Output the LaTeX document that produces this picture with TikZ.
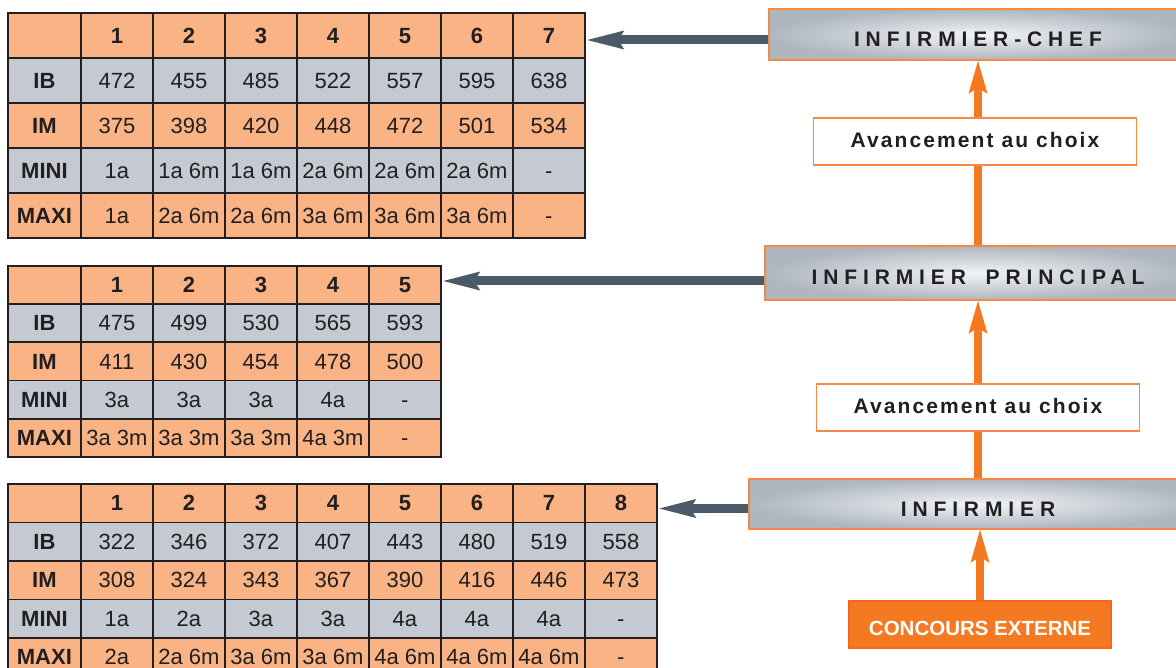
\documentclass[tikz,border=0pt]{standalone}
\usepackage{fontspec}
\setmainfont{Liberation Sans}
\newfontfamily\rankfont[LetterSpace=28]{Liberation Sans}
\newfontfamily\choixfont[LetterSpace=10]{Liberation Sans}
\usetikzlibrary{matrix,arrows.meta,positioning}

\definecolor{ink}{HTML}{231F20}
\definecolor{peach}{HTML}{F9B384}
\definecolor{steel}{HTML}{C5CAD2}
\definecolor{slate}{HTML}{4B5A68}
\definecolor{tangerine}{HTML}{F47920}
\definecolor{boxline}{HTML}{F58A45}
\definecolor{chromeout}{HTML}{AEB6BF}
\definecolor{chromein}{HTML}{F2F4F6}

\newcommand\gridfont{\fontsize{22}{24}\selectfont}

\tikzset{
  grille/.style={matrix of nodes, nodes in empty cells, anchor=north west,
    inner sep=0pt, outer sep=0pt, row sep=-1.8pt, column sep=-1.8pt,
    nodes={draw=ink, line width=1.8pt, minimum width=72pt, inner sep=0pt,
      text height=15.5pt, text depth=0pt, font=\gridfont, text=ink},
    column 1/.style={nodes={minimum width=73pt, font=\gridfont\bfseries}},
    row 1/.style={nodes={fill=peach, font=\gridfont\bfseries}},
    row 2/.style={nodes={fill=steel}},
    row 3/.style={nodes={fill=peach}},
    row 4/.style={nodes={fill=steel}},
    row 5/.style={nodes={fill=peach}}},
  grade/.style={draw=boxline, line width=1.5pt, shading=radial,
    inner color=chromein, outer color=chromeout, text=ink,
    text height=24pt, text depth=0pt,
    font=\rankfont\fontsize{21}{22}\selectfont\bfseries},
  choice/.style={draw=boxline, line width=1.5pt, fill=white, text=ink,
    minimum width=323pt, minimum height=47pt, text height=11.5pt, text depth=0pt,
    font=\choixfont\fontsize{21}{22}\selectfont\bfseries},
  entry/.style={draw=tangerine!85!red, line width=1.5pt, fill=tangerine, text=white,
    minimum width=262pt, minimum height=47pt, text height=21.7pt, text depth=0pt,
    font=\fontsize{20.5}{22}\selectfont\bfseries},
  climb/.style={draw=tangerine, line width=8pt,
    -{Stealth[length=33pt,width=19pt,inset=6pt,line width=0pt]}},
  link/.style={draw=slate, line width=9pt, shorten >=1.5pt,
    -{Stealth[length=37pt,width=19pt,inset=6pt,line width=0pt]}}
}

\begin{document}
\begin{tikzpicture}[x=1pt,y=-1pt]
  \useasboundingbox (0,0) rectangle (1176,668);
  \clip (0,0) rectangle (1176,668);
  % Grids
  \matrix (chefgrid) [grille, nodes={minimum height=45pt}] at (7,12) {
         & 1   & 2     & 3     & 4     & 5     & 6     & 7   \\
    IB   & 472 & 455   & 485   & 522   & 557   & 595   & 638 \\
    IM   & 375 & 398   & 420   & 448   & 472   & 501   & 534 \\
    MINI & 1a  & 1a 6m & 1a 6m & 2a 6m & 2a 6m & 2a 6m & -   \\
    MAXI & 1a  & 2a 6m & 2a 6m & 3a 6m & 3a 6m & 3a 6m & -   \\
  };
  \matrix (princgrid) [grille, nodes={minimum height=38.2pt}] at (7,265) {
         & 1     & 2     & 3     & 4     & 5   \\
    IB   & 475   & 499   & 530   & 565   & 593 \\
    IM   & 411   & 430   & 454   & 478   & 500 \\
    MINI & 3a    & 3a    & 3a    & 4a    & -   \\
    MAXI & 3a 3m & 3a 3m & 3a 3m & 4a 3m & -   \\
  };
  \matrix (infgrid) [grille, nodes={minimum height=38.5pt}] at (7,483) {
         & 1   & 2     & 3     & 4     & 5     & 6     & 7     & 8   \\
    IB   & 322 & 346   & 372   & 407   & 443   & 480   & 519   & 558 \\
    IM   & 308 & 324   & 343   & 367   & 390   & 416   & 446   & 473 \\
    MINI & 1a  & 2a    & 3a    & 3a    & 4a    & 4a    & 4a    & -   \\
    MAXI & 2a  & 2a 6m & 3a 6m & 3a 6m & 4a 6m & 4a 6m & 4a 6m & -   \\
  };
  % Grades
  \node[grade, minimum width=418pt, minimum height=51pt] (chef) at (978,34.5) {INFIRMIER-CHEF};
  \node[grade, minimum width=426pt, minimum height=54pt] (princ) at (978,273) {INFIRMIER\hspace{8pt} PRINCIPAL};
  \node[grade, minimum width=458pt, minimum height=50pt] (inf) at (978,504) {INFIRMIER};
  \node[entry] (concours) at (980,624.5) {CONCOURS EXTERNE};
  % Career path
  \draw[climb] (concours.north) -- (concours.north |- inf.south);
  \draw[climb] (inf.north) -- (princ.south);
  \draw[climb] (princ.north) -- (chef.south);
  \node[choice] (choixhaut) at (975,141.5) {Avancement au choix};
  \node[choice] (choixbas) at (978,407.5) {Avancement au choix};
  % Links to grids
  \coordinate (chefout) at ([yshift=-5.5pt]chef.west);
  \coordinate (princout) at ([yshift=-8pt]princ.west);
  \coordinate (infout) at ([yshift=-4.5pt]inf.west);
  \draw[link] (chefout) -- (chefout -| chefgrid.east);
  \draw[link] (princout) -- (princout -| princgrid.east);
  \draw[link] (infout) -- (infout -| infgrid.east);
\end{tikzpicture}
\end{document}
